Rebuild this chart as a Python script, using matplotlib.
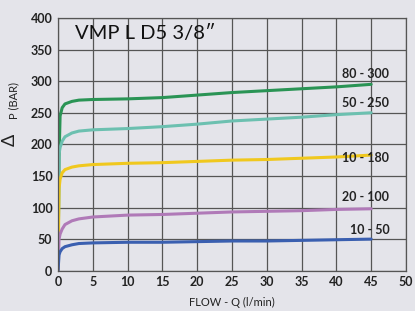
import numpy as np
import matplotlib
matplotlib.use("Agg")
import matplotlib.pyplot as plt

plt.rcParams['font.family'] = ['Lato', 'DejaVu Sans']

# flow points (l/min)
flow = [0, 0.15, 0.3, 0.6, 1, 2, 3, 5, 10, 15, 20, 25, 30, 35, 40, 45]

# pressure curves (bar)
p_80_300 = [0, 180, 245, 258, 264, 268, 270, 271, 272, 274, 278, 282, 285, 288, 291, 295]
p_50_250 = [0, 185, 195, 205, 212, 218, 221, 223, 225, 228, 232, 237, 240, 243, 247, 250]
p_10_180 = [0, 130, 145, 155, 160, 164, 166, 168, 170, 171, 173, 175, 176, 178, 180, 183]
p_20_100 = [0, 50, 58, 66, 73, 79, 82, 85, 88, 89, 91, 93, 94, 95, 97, 98]
p_10_50 = [0, 25, 30, 35, 38, 41, 43, 44, 45, 45, 46, 47, 47, 48, 49, 50]

series = [
    ("80 - 300", p_80_300, "#2a9455", 312),
    ("50 - 250", p_50_250, "#6cc0b0", 265),
    ("10 - 180", p_10_180, "#f0c81e", 178),
    ("20 - 100", p_20_100, "#b07ab8", 117),
    ("10 - 50", p_10_50, "#3a5fb0", 64),
]

fig = plt.figure(figsize=(4.15, 3.11), dpi=100)
fig.patch.set_facecolor("#e4e4ea")
ax = fig.add_axes([0.1398, 0.1296, 0.8384, 0.8125])
ax.set_facecolor("#e4e4ea")

for name, vals, col, ly in series:
    ax.plot(flow, vals, color=col, lw=2.2, solid_capstyle="round")
    ax.text(47.6, ly, name, ha="right", va="center", fontsize=9,
            fontweight="bold", color="#222222")

ax.set_xlim(0, 50)
ax.set_ylim(0, 400)
ax.set_xticks(range(0, 51, 5))
ax.set_yticks(range(0, 401, 50))
ax.grid(True, color="#555555", lw=0.9)
ax.set_axisbelow(True)
for s in ax.spines.values():
    s.set_color("#555555")
    s.set_linewidth(0.9)
ax.tick_params(length=0, pad=4, labelsize=9, colors="#222222")
for lab in ax.get_xticklabels() + ax.get_yticklabels():
    lab.set_fontweight("bold")

ax.text(2.5, 375, "VMP L D5 3/8\u2033", fontsize=14.5, va="center", ha="left",
        color="#111111")
ax.set_xlabel("FLOW - Q (l/min)", fontsize=8, color="#222222", labelpad=6)
ax.set_ylabel("P (BAR)", fontsize=8, color="#222222")
ax.yaxis.set_label_coords(-0.11, 0.675)
fig.text(0.024, 0.55, "\u0394", fontsize=13, rotation=90, color="#222222",
         ha="center", va="center")

fig.savefig("out.png", dpi=100, facecolor=fig.get_facecolor())
